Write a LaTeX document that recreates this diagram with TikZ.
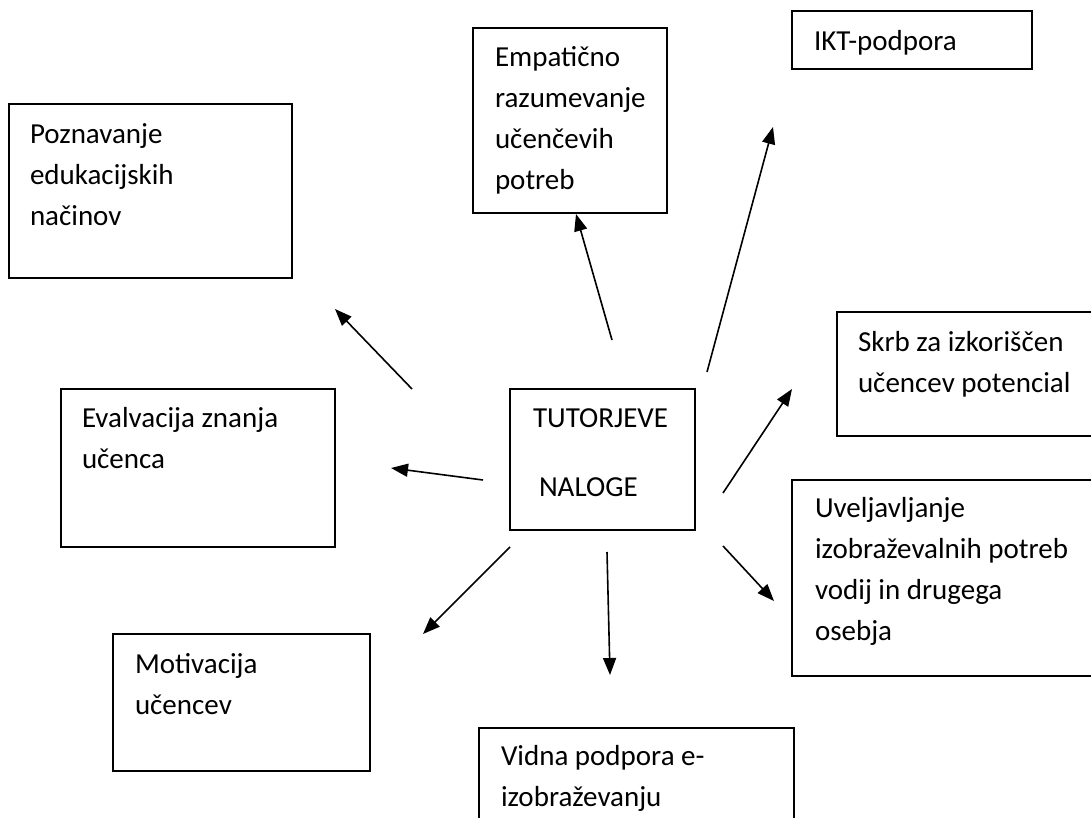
\documentclass[tikz,border=0pt]{standalone}
\usepackage{fontspec}
\setmainfont{Carlito}
\usetikzlibrary{arrows.meta}
% stacked lines with a fixed baseline distance; the box's baseline is its first line
\newcommand\boxlines[1]{\vtop{\baselineskip=41pt\lineskiplimit=-100pt\lineskip=0pt\halign{##\hfil\cr#1\crcr}}}

\begin{document}
\begin{tikzpicture}[x=1pt,y=-1pt,
  frame/.style={draw=black,line width=1.8pt,inner sep=0pt,outer sep=0pt,anchor=north west},
  txt/.style={anchor=base west,inner sep=0pt,outer sep=0pt,font=\fontsize{29}{41}\selectfont},
  link/.style={draw=black,line width=1.6pt,-{Triangle[length=17pt,width=13pt]}}]
\useasboundingbox (0,0) rectangle (1091,818);
\fill[white] (0,0) rectangle (1091,818);
\clip (0,0) rectangle (1091,818);

% frames
\node[frame,minimum width=283pt,minimum height=174pt] (pozn) at (9,104) {};
\node[frame,minimum width=194pt,minimum height=185pt] (empa) at (473,28) {};
\node[frame,minimum width=240pt,minimum height=58pt]  (ikt)  at (792,11) {};
\node[frame,minimum width=300pt,minimum height=124pt] (skrb) at (837,312) {};
\node[frame,minimum width=274pt,minimum height=158pt] (eval) at (61,389) {};
\node[frame,minimum width=185pt,minimum height=141pt] (tut)  at (510,389) {};
\node[frame,minimum width=320pt,minimum height=196pt] (uvel) at (792,480) {};
\node[frame,minimum width=257pt,minimum height=137pt] (moti) at (113,634) {};
\node[frame,minimum width=315pt,minimum height=140pt] (vidn) at (479,728) {};

% texts
\node[txt] (pozn-t) at (30,144)  {\boxlines{Poznavanje\cr edukacijskih\cr načinov}};
\node[txt] (empa-t) at (495,67)  {\boxlines{Empatično\cr razumevanje\cr učenčevih\cr potreb}};
\node[txt] (ikt-t)  at (814,51)  {IKT-podpora};
\node[txt] (skrb-t) at (858,351) {\boxlines{Skrb za izkoriščen\cr učencev potencial}};
\node[txt] (eval-t) at (82,427)  {\boxlines{Evalvacija znanja\cr učenca}};
\node[txt] (tut-a)  at (533,427) {TUTORJEVE};
\node[txt] (tut-b)  at (539,496) {NALOGE};
\node[txt] (uvel-t) at (815,517) {\boxlines{Uveljavljanje\cr izobraževalnih potreb\cr vodij in drugega\cr osebja}};
\node[txt] (moti-t) at (135,673) {\boxlines{Motivacija\cr učencev}};
\node[txt] (vidn-t) at (501,765) {\boxlines{Vidna podpora e-\cr izobraževanju}};

% arrow ends
\coordinate (s1) at (412,389); \coordinate (e1) at (335,309);
\coordinate (s2) at (483,480); \coordinate (e2) at (391,468);
\coordinate (s3) at (612,340); \coordinate (e3) at (576,214);
\coordinate (s4) at (707,372); \coordinate (e4) at (773,127);
\coordinate (s5) at (723,493); \coordinate (e5) at (792,389);
\coordinate (s6) at (723,546); \coordinate (e6) at (774,601);
\coordinate (s7) at (607,552); \coordinate (e7) at (610,675);
\coordinate (s8) at (510,547); \coordinate (e8) at (423,634);

\foreach \i in {1,...,8} \draw[link] (s\i) -- (e\i);
\end{tikzpicture}
\end{document}
